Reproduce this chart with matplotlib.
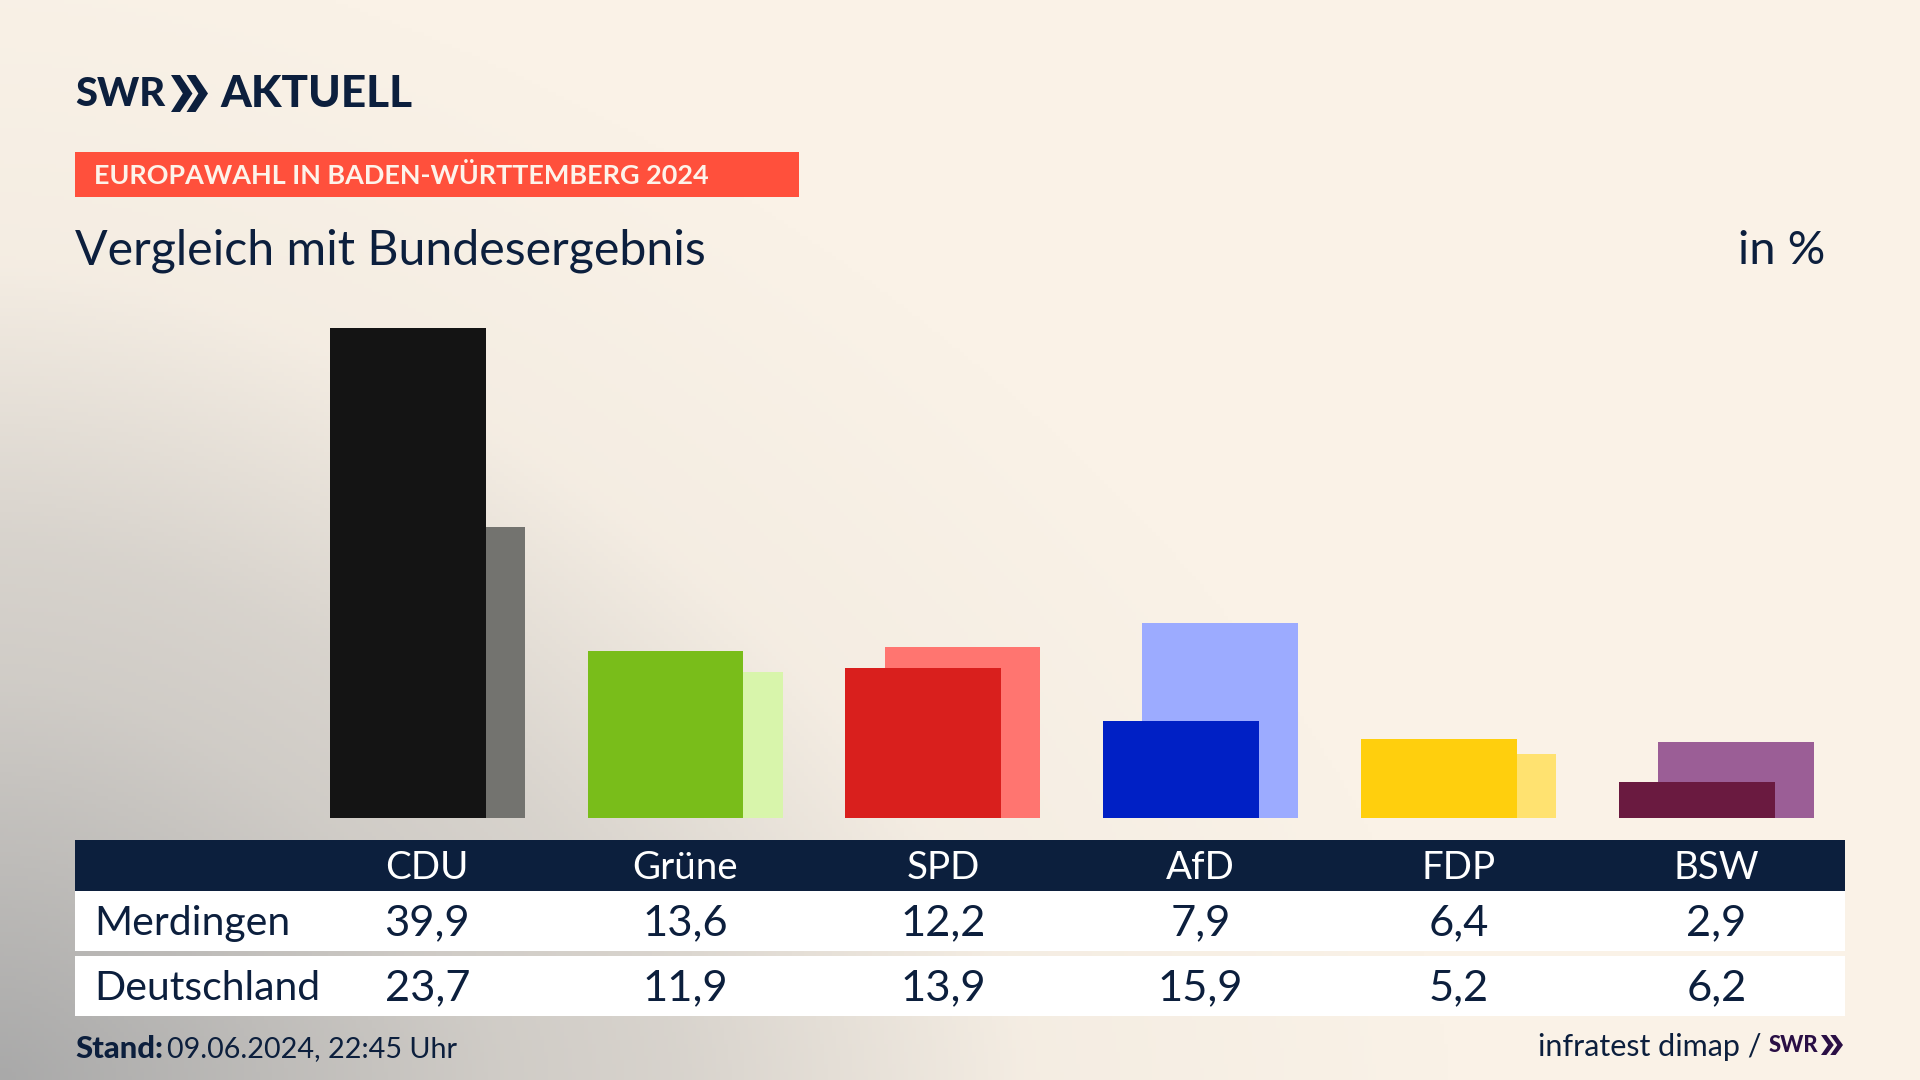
import matplotlib
matplotlib.use('Agg')
import matplotlib.pyplot as plt
from matplotlib.colors import to_rgb
from matplotlib.patches import Polygon, Rectangle
import numpy as np

parties = ['CDU', 'Grüne', 'SPD', 'AfD', 'FDP', 'BSW']
merdingen = [39.9, 13.6, 12.2, 7.9, 6.4, 2.9]
deutschland = [23.7, 11.9, 13.9, 15.9, 5.2, 6.2]
merdingen_labels = ['39,9', '13,6', '12,2', '7,9', '6,4', '2,9']
deutschland_labels = ['23,7', '11,9', '13,9', '15,9', '5,2', '6,2']
front_colors = ['#141414', '#79bd1a', '#d91f1d', '#0020c5', '#ffcf0d', '#6a1a40']
back_colors = ['#73736f', '#d8f5ab', '#ff7570', '#9cabff', '#ffe270', '#9b5e96']

NAVY = '#0c1f3d'

plt.rcParams['font.family'] = 'Lato'
fig = plt.figure(figsize=(19.2, 10.8), dpi=100)

# full figure layer in pixels for background, table and header
bg = fig.add_axes([0, 0, 1, 1])
bg.set_xlim(0, 1920)
bg.set_ylim(1080, 0)
bg.axis('off')

# background, gray from the lower left corner into cream
xx, yy = np.meshgrid(np.linspace(0, 1920, 480), np.linspace(0, 1080, 270))
t = ((xx / 1450) ** 1.6 + ((1080 - yy) / 1150) ** 1.6) ** (1 / 1.6)
t = np.interp(t, [0, 0.345, 0.47, 0.71, 1.0], [0, 0.48, 0.58, 0.93, 1.0])
c0 = np.array(to_rgb('#a9a9a9'))
c1 = np.array(to_rgb('#faf2e7'))
grad = c0 + (c1 - c0) * t[..., None]
bg.imshow(grad, extent=[0, 1920, 1080, 0], aspect='auto', zorder=0)


def px(x):
    return x * 0.72


def chevrons(x, y, w, h, color):
    # two arrows side by side, logo mark
    aw = w * 0.58
    for x0 in (x, x + w - aw):
        pts = [(x0, y), (x0 + aw * 0.42, y), (x0 + aw, y + h / 2),
               (x0 + aw * 0.42, y + h), (x0, y + h), (x0 + aw * 0.55, y + h / 2)]
        bg.add_patch(Polygon(pts, closed=True, color=color, lw=0, zorder=3))


# logo
bg.text(75, 94, 'SWR', fontsize=px(40), fontweight='black', color=NAVY, va='center', ha='left', zorder=3)
chevrons(171, 75, 37, 37, NAVY)
bg.text(220, 94, 'AKTUELL', fontsize=px(44), fontweight='black', color=NAVY, va='center', ha='left', zorder=3)

# topline
bg.add_patch(Rectangle((75, 152), 724, 45, color='#ff503c', lw=0, zorder=2))
bg.text(94, 176, 'EUROPAWAHL IN BADEN-WÜRTTEMBERG 2024', fontsize=px(27), fontweight='bold',
        color='#fdf3ea', va='center', ha='left', zorder=3)

bg.text(75, 251, 'Vergleich mit Bundesergebnis', fontsize=px(48.2), color=NAVY, va='center', ha='left', zorder=3)
bg.text(1825, 251, 'in %', fontsize=px(47), color=NAVY, va='center', ha='right', zorder=3)

# table
bg.add_patch(Rectangle((75, 840), 1770, 51, color=NAVY, lw=0, zorder=2))
bg.add_patch(Rectangle((75, 891), 1770, 60, color='white', lw=0, zorder=2))
bg.add_patch(Rectangle((75, 956), 1770, 60, color='white', lw=0, zorder=2))
bg.text(94, 923, 'Merdingen', fontsize=px(41), color=NAVY, va='center', ha='left', zorder=3)
bg.text(94, 988, 'Deutschland', fontsize=px(41), color=NAVY, va='center', ha='left', zorder=3)

column_x = 427.3 + 257.8 * np.arange(len(parties))
for i, cx in enumerate(column_x):
    bg.text(cx, 868, parties[i], fontsize=px(38.5), color='white', va='center', ha='center', zorder=3)
    bg.text(cx, 923, merdingen_labels[i], fontsize=px(43.5), color=NAVY, va='center', ha='center', zorder=3)
    bg.text(cx, 988, deutschland_labels[i], fontsize=px(43.5), color=NAVY, va='center', ha='center', zorder=3)

# footer
bg.text(75, 1049, 'Stand:', fontsize=px(31), fontweight='black', color=NAVY, va='center', ha='left', zorder=3)
bg.text(167, 1049, '09.06.2024, 22:45 Uhr', fontsize=px(28.7), color=NAVY, va='center', ha='left', zorder=3)
bg.text(1762, 1047, 'infratest dimap /', fontsize=px(30.5), color=NAVY, va='center', ha='right', zorder=3)
bg.text(1769, 1046, 'SWR', fontsize=px(22), fontweight='black', color='#2a0f45', va='center', ha='left', zorder=3)
chevrons(1821, 1035, 22, 20, '#2a0f45')

# bars, axes placed so that one unit on x is one table column
ax = fig.add_axes([(427.3 - 257.8 * 0.5) / 1920, (1080 - 818) / 1080, 257.8 * 6 / 1920, 490 / 1080])
ax.patch.set_alpha(0)
ax.set_xlim(-0.5, 5.5)
ax.set_ylim(0, 39.9)
ax.axis('off')

x = np.arange(len(parties))
ax.bar(x + 0.076, deutschland, width=0.605, color=back_colors, zorder=1)
ax.bar(x - 0.076, merdingen, width=0.605, color=front_colors, zorder=2)

fig.savefig('out.png', dpi=100)
